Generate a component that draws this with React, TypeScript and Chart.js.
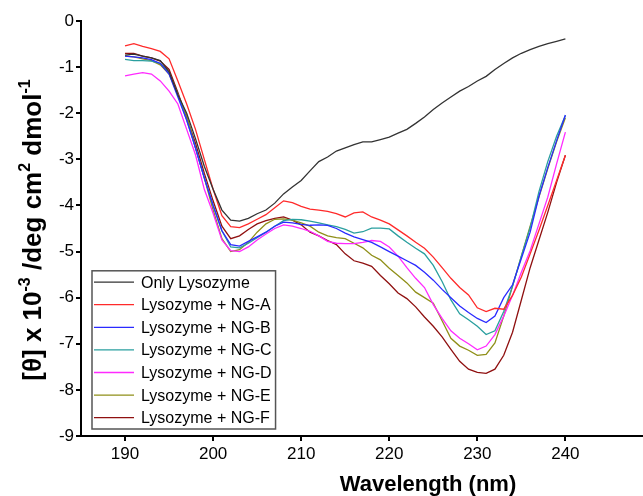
import React, { useEffect, useRef } from "react";
import { Chart, registerables } from "chart.js";

Chart.register(...registerables);

// ---- data ----
const wavelengths = [
  190, 191, 192, 193, 194, 195, 196, 197, 198, 199,
  200, 201, 202, 203, 204, 205, 206, 207, 208, 209,
  210, 211, 212, 213, 214, 215, 216, 217, 218, 219,
  220, 221, 222, 223, 224, 225, 226, 227, 228, 229,
  230, 231, 232, 233, 234, 235, 236, 237, 238, 239, 240,
];

const onlyLysozyme = [
  -0.74, -0.72, -0.76, -0.8, -0.86, -1.1, -1.6, -2.0, -2.55, -3.15,
  -3.65, -4.1, -4.32, -4.34, -4.28, -4.18, -4.1, -3.95, -3.75, -3.6,
  -3.46, -3.25, -3.05, -2.95, -2.82, -2.75, -2.68, -2.62, -2.62, -2.57,
  -2.52, -2.43, -2.35, -2.22, -2.08, -1.92, -1.78, -1.65, -1.52, -1.42,
  -1.3, -1.2, -1.05, -0.92, -0.8, -0.7, -0.62, -0.55, -0.49, -0.44, -0.39,
];

const ngA = [
  -0.54, -0.49, -0.55, -0.6, -0.66, -0.82, -1.3, -1.8, -2.35, -3.0,
  -3.65, -4.22, -4.46, -4.48, -4.4, -4.3, -4.2, -4.05, -3.9, -3.94,
  -4.02, -4.08, -4.1, -4.13, -4.18, -4.25, -4.16, -4.14, -4.25, -4.32,
  -4.4, -4.53, -4.66, -4.8, -4.93, -5.12, -5.35, -5.58, -5.78, -5.94,
  -6.22, -6.3, -6.23, -6.25, -5.95, -5.55, -5.05, -4.54, -4.0, -3.46, -2.91,
];

const ngB = [
  -0.76, -0.78, -0.8, -0.84, -0.92, -1.15, -1.65, -2.15, -2.75, -3.4,
  -4.0, -4.55, -4.85, -4.88, -4.78, -4.68, -4.58, -4.45, -4.36, -4.38,
  -4.41, -4.43, -4.42, -4.43, -4.5, -4.6, -4.68, -4.74, -4.8, -4.9,
  -5.0, -5.1, -5.2, -5.3, -5.45, -5.62, -5.82, -6.0, -6.18, -6.32,
  -6.45, -6.54, -6.4, -6.0, -5.72, -5.15, -4.58, -3.8, -3.18, -2.6, -2.04,
];

const ngC = [
  -0.83, -0.86, -0.86, -0.87, -0.92, -1.12, -1.6, -2.15, -2.75, -3.4,
  -4.0, -4.55, -4.9, -4.92, -4.82, -4.7, -4.58, -4.45, -4.33, -4.3,
  -4.31, -4.34, -4.38, -4.42, -4.46, -4.52, -4.6, -4.57, -4.49, -4.49,
  -4.51, -4.66, -4.8, -4.93, -5.05, -5.3, -5.65, -6.05, -6.35, -6.48,
  -6.62, -6.8, -6.72, -6.3, -5.75, -5.1, -4.48, -3.7, -3.05, -2.5, -2.05,
];

const ngD = [
  -1.19, -1.15, -1.12, -1.15, -1.3, -1.52, -1.8, -2.35, -2.9, -3.65,
  -4.17, -4.75, -4.98, -5.0, -4.9, -4.75, -4.62, -4.5, -4.42, -4.45,
  -4.5, -4.56, -4.66, -4.78, -4.82, -4.83, -4.83, -4.8, -4.76, -4.78,
  -4.9, -5.1, -5.35, -5.58, -5.78, -6.15, -6.45, -6.72, -6.88, -7.0,
  -7.13, -7.05, -6.8, -6.4, -5.95, -5.45, -4.98, -4.4, -3.82, -3.1, -2.41,
];

const ngE = [
  -0.76, -0.78, -0.82, -0.86, -0.95, -1.15, -1.6, -2.05, -2.75, -3.4,
  -4.1, -4.72, -5.0, -4.96, -4.8, -4.58, -4.4, -4.3, -4.29, -4.32,
  -4.38, -4.45, -4.58, -4.66, -4.7, -4.72, -4.82, -4.92, -5.08, -5.18,
  -5.36, -5.52, -5.68, -5.88, -6.0, -6.12, -6.5, -6.88, -7.05, -7.14,
  -7.25, -7.23, -6.98, -6.4, -5.75, -5.1, -4.45, -3.82, -3.2, -2.62, -2.1,
];

const ngF = [
  -0.7, -0.7, -0.76, -0.8, -0.87, -1.05, -1.55, -2.1, -2.65, -3.3,
  -3.9, -4.45, -4.72, -4.66, -4.52, -4.4, -4.33, -4.28, -4.25, -4.32,
  -4.42, -4.58, -4.66, -4.76, -4.85, -5.05, -5.2, -5.25, -5.32, -5.52,
  -5.7, -5.9, -6.02, -6.2, -6.42, -6.62, -6.85, -7.12, -7.38, -7.55,
  -7.62, -7.64, -7.55, -7.25, -6.75, -6.05, -5.35, -4.75, -4.15, -3.5, -2.91,
];

const seriesLabels = [
  "Only Lysozyme",
  "Lysozyme + NG-A",
  "Lysozyme + NG-B",
  "Lysozyme + NG-C",
  "Lysozyme + NG-D",
  "Lysozyme + NG-E",
  "Lysozyme + NG-F",
];
const seriesValues = [onlyLysozyme, ngA, ngB, ngC, ngD, ngE, ngF];
const seriesColors = [
  "#333333",
  "#ff2a2a",
  "#2a2aff",
  "#2a9f9f",
  "#ff2aff",
  "#8f8f18",
  "#8f1010",
];

const xTicks = [190, 200, 210, 220, 230, 240];
const yTicks = [0, -1, -2, -3, -4, -5, -6, -7, -8, -9];
const xTitle = "Wavelength (nm)";
// y title pieces: [text, isSuperscript]
const yTitleParts: [string, boolean][] = [
  ["[\u03B8] x 10", false],
  ["-3", true],
  [" /deg cm", false],
  ["2", true],
  [" dmol", false],
  ["-1", true],
];

const FONT = "'Liberation Sans', Arial, Helvetica, sans-serif";

const boxLegend = {
  id: "boxLegend",
  afterDraw(chart: any) {
    const { ctx, chartArea } = chart;
    const left = chartArea.left + 11;
    const bottom = chartArea.bottom - 7;
    const rowH = 22.6;
    const ds = chart.data.datasets;
    const n = ds.length;
    const top = bottom - rowH * n;
    ctx.save();
    ctx.font = `16px ${FONT}`;
    let maxW = 0;
    ds.forEach((d: any) => {
      maxW = Math.max(maxW, ctx.measureText(d.label).width);
    });
    const textX = left + 49;
    const width = 49 + maxW + 4;
    ctx.fillStyle = "#ffffff";
    ctx.fillRect(left, top, width, bottom - top);
    ctx.strokeStyle = "#555555";
    ctx.lineWidth = 1.5;
    ctx.strokeRect(left, top, width, bottom - top);
    ctx.textBaseline = "middle";
    ctx.textAlign = "left";
    ds.forEach((d: any, i: number) => {
      const cy = top + rowH * (i + 0.5);
      ctx.strokeStyle = d.borderColor;
      ctx.lineWidth = 1.3;
      ctx.beginPath();
      ctx.moveTo(left + 2, cy);
      ctx.lineTo(left + 42, cy);
      ctx.stroke();
      ctx.fillStyle = "#000000";
      ctx.fillText(d.label, textX, cy + 1);
    });
    ctx.restore();
  },
};

const yTitlePlugin = {
  id: "yTitle",
  afterDraw(chart: any) {
    const { ctx } = chart;
    const mainFont = `bold 26px ${FONT}`;
    const supFont = `bold 16px ${FONT}`;
    ctx.save();
    let total = 0;
    yTitleParts.forEach(([t, sup]) => {
      ctx.font = sup ? supFont : mainFont;
      total += ctx.measureText(t).width;
    });
    const cx = 32;
    const cy = 230;
    ctx.translate(cx, cy);
    ctx.rotate(-Math.PI / 2);
    ctx.fillStyle = "#000000";
    ctx.textBaseline = "alphabetic";
    ctx.textAlign = "left";
    let x = -total / 2;
    const base = 9;
    yTitleParts.forEach(([t, sup]) => {
      ctx.font = sup ? supFont : mainFont;
      ctx.fillText(t, x, sup ? base - 11 : base);
      x += ctx.measureText(t).width;
    });
    ctx.restore();
  },
};

export default function App() {
  const canvasRef = useRef<HTMLCanvasElement | null>(null);

  useEffect(() => {
    document.body.style.margin = "0";
    document.body.style.overflow = "hidden";
    const canvas = canvasRef.current;
    if (!canvas) return;
    const datasets = seriesLabels.map((label, i) => ({
      label,
      data: wavelengths.map((w, j) => ({ x: w, y: seriesValues[i][j] })),
      borderColor: seriesColors[i],
      backgroundColor: seriesColors[i],
      borderWidth: 1.3,
      pointRadius: 0,
      tension: 0,
      fill: false,
    }));
    const axisCommon = {
      grid: {
        display: true,
        drawOnChartArea: false,
        drawTicks: true,
        tickLength: 5,
        tickWidth: 2,
        color: "#000000",
        lineWidth: 2,
      },
      border: { display: true, color: "#000000", width: 2 },
    };
    const chart = new Chart(canvas, {
      type: "line",
      data: { datasets },
      plugins: [boxLegend, yTitlePlugin],
      options: {
        animation: false,
        responsive: false,
        devicePixelRatio: 1,
        layout: { padding: { top: 21, right: 0, left: 0, bottom: 0 } },
        plugins: {
          legend: { display: false },
          tooltip: { enabled: false },
          title: { display: false },
        },
        scales: {
          x: {
            type: "linear",
            min: 185,
            max: 263.8,
            ...axisCommon,
            afterBuildTicks: (scale: any) => {
              scale.ticks = xTicks.map((v) => ({ value: v }));
            },
            afterFit: (scale: any) => {
              scale.height = 60;
            },
            ticks: {
              color: "#000000",
              font: { family: FONT, size: 17 },
              padding: 3,
              maxRotation: 0,
              autoSkip: false,
            },
            title: {
              display: true,
              text: xTitle,
              color: "#000000",
              font: { family: FONT, size: 22, weight: "bold", lineHeight: 1.0 },
              padding: { top: 0, bottom: 0 },
            },
          },
          y: {
            type: "linear",
            min: -9,
            max: 0,
            ...axisCommon,
            afterBuildTicks: (scale: any) => {
              scale.ticks = yTicks.map((v) => ({ value: v }));
            },
            afterFit: (scale: any) => {
              scale.width = 81;
            },
            ticks: {
              color: "#000000",
              font: { family: FONT, size: 17 },
              padding: 2,
              autoSkip: false,
              callback: (v: any) => String(v),
            },
            title: { display: false },
          },
        },
      } as any,
    });
    return () => chart.destroy();
  }, []);

  return (
    <div style={{ width: 643, height: 496, overflow: "hidden" }}>
      <canvas ref={canvasRef} width={775} height={496} style={{ display: "block" }} />
    </div>
  );
}
